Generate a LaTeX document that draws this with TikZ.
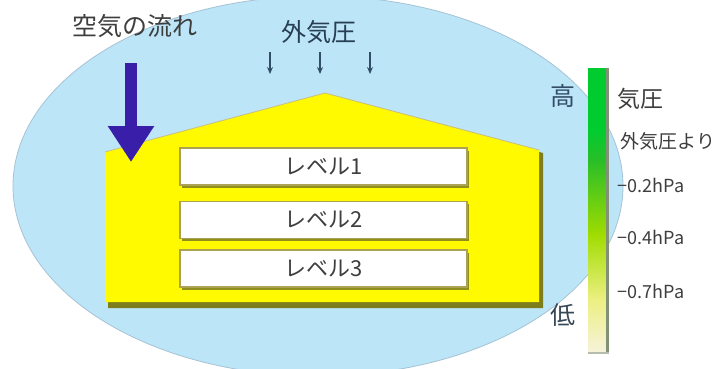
\documentclass[tikz,border=0pt]{standalone}
\usepackage{fontspec}
\setmainfont{Noto Sans CJK JP}
\usetikzlibrary{arrows.meta,shadows}
\definecolor{skyblue}{RGB}{189,229,248}
\definecolor{skyedge}{RGB}{165,195,212}
\definecolor{wallyellow}{RGB}{255,250,0}
\definecolor{wallshade}{RGB}{125,125,30}
\definecolor{boxedge}{RGB}{172,162,84}
\definecolor{flowblue}{RGB}{56,30,168}
\definecolor{inkgray}{RGB}{62,62,62}
\definecolor{slate}{RGB}{50,78,102}
\definecolor{bargreen}{RGB}{0,204,48}
\definecolor{barmid}{RGB}{40,190,40}
\definecolor{barlime}{RGB}{160,220,0}
\definecolor{barpale}{RGB}{236,240,130}
\definecolor{barcream}{RGB}{246,242,218}
\definecolor{baredge}{RGB}{130,145,120}

\begin{document}
\begin{tikzpicture}[x=1pt,y=-1pt,
  levelbox/.style={draw=boxedge,line width=1.6pt,fill=white,
    minimum width=287pt,minimum height=37pt,inner sep=0pt,
    drop shadow={shadow xshift=2pt,shadow yshift=-2.5pt,fill=wallshade,opacity=0.85},
    text=inkgray,font=\fontsize{22}{22}\selectfont},
  biglabel/.style={text=inkgray,inner sep=0pt,font=\fontsize{25}{25}\selectfont},
  scalelabel/.style={text=inkgray,inner sep=0pt,font=\fontsize{18}{18}\selectfont}]
 \useasboundingbox[fill=white] (0,0) rectangle (722,369);
 % outside air
 \fill[skyblue,draw=skyedge,line width=0.8pt] (318,186) ellipse [x radius=305pt,y radius=190pt];
 % house
 \fill[wallshade] (108,155) -- (328,96) -- (543,153) -- (543,308) -- (108,308) -- cycle;
 \fill[wallyellow] (105,152) -- (325,93) -- (539,150) -- (539,302) -- (105,302) -- cycle;
 \draw[boxedge!70,line width=0.8pt] (105,152) -- (325,93) -- (539,150);
 \node[levelbox] (lvA) at (323.5,166.5) {レベル1};
 \node[levelbox] (lvB) at (323.5,220) {レベル2};
 \node[levelbox] (lvC) at (323.5,268.5) {レベル3};
 % air flow
 \node[biglabel] (flowlbl) at (135,26) {空気の流れ};
 \coordinate (flowtop) at (131,63);
 \coordinate (flowtip) at (131,162);
 \draw[flowblue,line width=12pt,-{Triangle[width=44pt,length=36pt]}] (flowtop) -- (flowtip);
 \node[biglabel,text=slate!80!black] (outerlbl) at (319,32) {外気圧};
 \foreach \x [count=\i] in {270,320,370}
   {\coordinate (pin\i) at (\x,52);
    \coordinate (pout\i) at (\x,74);
    \draw[slate,line width=1.6pt,-{Stealth[length=7pt,width=6pt]}] (pin\i) -- (pout\i);}
 % pressure bar
 \fill[bargreen] (588,68) rectangle (606,130);
 \shade[top color=bargreen,bottom color=barmid] (588,129.5) rectangle (606,160);
 \shade[top color=barmid,bottom color=barlime] (588,159.5) rectangle (606,235);
 \shade[top color=barlime,bottom color=barpale] (588,234.5) rectangle (606,300);
 \shade[top color=barpale,bottom color=barcream] (588,299.5) rectangle (606,352);
 \draw[baredge,line width=3pt] (607.5,68) -- (607.5,352);
 \draw[baredge!60,line width=2pt] (588,353) -- (609,353);
 \node[biglabel,text=slate] (hilbl) at (563,96) {高};
 \node[biglabel,text=slate!60!inkgray] (lolbl) at (563,315) {低};
 \node[biglabel,font=\fontsize{23}{23}\selectfont] (presslbl) at (640,99) {気圧};
 \node[scalelabel,font=\fontsize{19}{19}\selectfont] (reflbl) at (668,141) {外気圧より};
 \node[scalelabel] (tickA) at (651,185) {−0.2hPa};
 \node[scalelabel] (tickB) at (651,237) {−0.4hPa};
 \node[scalelabel] (tickC) at (651,291) {−0.7hPa};
\end{tikzpicture}
\end{document}
